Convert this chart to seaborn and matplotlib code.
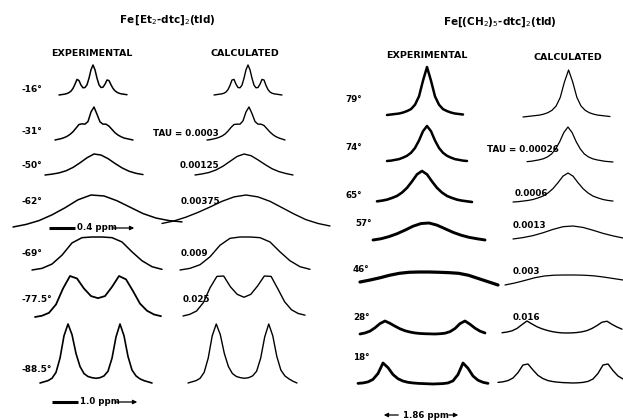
import matplotlib
matplotlib.use("Agg")
import matplotlib.pyplot as plt
import seaborn as sns
import numpy as np
import pandas as pd

sns.set_theme(style="white")
plt.rcParams['font.family'] = ['DejaVu Sans']

# ---------------- data (relative intensities) ----------------
left_temps = ["-16°", "-31°", "-50°", "-62°", "-69°", "-77.5°", "-88.5°"]
left_taus = ["", "TAU = 0.0003", "0.00125", "0.00375", "0.009", "0.025", ""]
right_temps = ["79°", "74°", "65°", "57°", "46°", "28°", "18°"]
right_taus = ["", "TAU = 0.00026", "0.0006", "0.0013", "0.003", "0.016", ""]

exp_m16 = [0, 1, 2, 3, 5, 8, 13, 22, 36, 52, 48, 33, 24, 25, 34, 56, 84, 100, 84, 56,
           34, 25, 26, 36, 50, 48, 34, 22, 14, 9, 6, 4, 3, 2, 1]
calc_m16 = [0, 1, 2, 3, 4, 6, 10, 18, 32, 50, 52, 36, 25, 24, 33, 56, 84, 100, 84, 56,
            33, 24, 25, 36, 52, 50, 32, 18, 10, 6, 4, 3, 2, 1, 0]
exp_m31 = [0, 2, 4, 7, 11, 17, 25, 36, 47, 49, 48, 56, 85, 100, 78, 55, 48, 48, 42, 32,
           22, 15, 10, 6, 4, 2, 0]
calc_m31 = [0, 1, 3, 5, 8, 12, 18, 27, 38, 47, 48, 48, 58, 85, 100, 80, 56, 48, 48, 44,
            34, 24, 16, 10, 6, 3, 0]
exp_m50 = [0, 4, 10, 20, 36, 58, 82, 100, 95, 78, 55, 34, 18, 8, 2]
calc_m50 = [0, 5, 12, 24, 42, 65, 88, 100, 92, 72, 50, 30, 16, 7, 0]
exp_m62 = [0, 8, 20, 38, 60, 85, 100, 97, 82, 62, 42, 28, 20, 16]
calc_m62 = [10, 18, 30, 45, 62, 80, 94, 100, 94, 80, 60, 40, 22, 10, 2]
exp_m69 = [0, 5, 18, 45, 82, 98, 100, 100, 98, 85, 55, 28, 10, 2]
calc_m69 = [0, 5, 16, 40, 75, 96, 100, 100, 98, 85, 55, 28, 10, 2]
exp_m775 = [0, 3, 10, 30, 68, 98, 92, 68, 50, 45, 50, 72, 98, 90, 62, 32, 15, 6, 2]
calc_m775 = [0, 4, 12, 32, 68, 95, 96, 70, 52, 45, 52, 72, 96, 95, 65, 34, 15, 6, 2]
exp_m885 = [0, 2, 4, 8, 18, 42, 80, 100, 82, 50, 28, 16, 11, 9, 8, 9, 12, 20, 42, 78,
            100, 80, 45, 22, 12, 7, 4, 2, 0]
calc_m885 = [0, 2, 4, 8, 18, 42, 80, 100, 82, 50, 28, 16, 11, 9, 8, 9, 12, 20, 42, 78,
             100, 80, 45, 22, 12, 7, 3, 0]

exp_79 = [2, 3, 4, 5, 7, 10, 14, 23, 40, 72, 100, 72, 40, 23, 14, 10, 7, 5, 4, 3]
calc_79 = [2, 3, 4, 5, 6, 8, 11, 16, 25, 43, 75, 100, 75, 43, 25, 16, 11, 8, 6, 5, 4, 3]
exp_74 = [6, 7, 9, 11, 15, 20, 28, 41, 61, 86, 100, 86, 61, 41, 28, 20, 15, 11, 9, 7, 6]
calc_74 = [5, 6, 8, 10, 13, 18, 26, 40, 60, 85, 100, 85, 60, 40, 26, 18, 13, 10, 8, 6, 5, 4]
exp_65 = [10, 12, 15, 20, 26, 36, 50, 69, 90, 100, 90, 69, 50, 36, 26, 20, 15, 12, 10, 8]
calc_65 = [7, 8, 10, 12, 15, 20, 26, 36, 50, 69, 90, 100, 90, 69, 50, 36, 26, 20, 15, 12, 10]
exp_57 = [5, 12, 24, 40, 60, 82, 97, 100, 88, 68, 48, 32, 20, 12, 5]
calc_57 = [8, 18, 32, 52, 76, 95, 100, 90, 70, 48, 30, 15]
exp_46 = [23, 38, 55, 75, 90, 98, 100, 100, 98, 95, 90, 75, 50, 25, 0]
calc_46 = [0, 20, 45, 72, 90, 98, 100, 100, 98, 92, 80, 65, 50]
exp_28 = [0, 8, 22, 48, 80, 100, 82, 60, 40, 25, 15, 8, 4, 2, 1, 0, 2, 6, 18, 42,
          80, 100, 75, 45, 22, 8]
calc_28 = [2, 8, 18, 38, 70, 100, 75, 52, 35, 22, 12, 5, 1, 0, 1, 4, 10, 20, 38, 62,
           90, 98, 72, 50, 32]
exp_18 = [3, 5, 10, 22, 50, 100, 78, 45, 25, 14, 8, 5, 3, 2, 1, 0, 1, 2, 5, 15,
          45, 100, 75, 38, 18, 8, 3]
calc_18 = [3, 6, 12, 25, 52, 90, 95, 65, 38, 22, 12, 7, 4, 2, 1, 0, 1, 3, 8, 20,
           48, 90, 95, 62, 35, 20]

# ---------------- layout (pixel boxes: left, right, top, bottom) ----------------
W, H = 623, 420
fig = plt.figure(figsize=(W / 100, H / 100), dpi=100)
bg = fig.add_axes([0, 0, 1, 1])
bg.set_xlim(0, W)
bg.set_ylim(H, 0)
bg.axis("off")

traces = [
    (exp_m16, (59, 127, 65, 95), 1.1), (calc_m16, (214, 282, 65, 95), 1.0),
    (exp_m31, (55, 133, 107, 140), 1.1), (calc_m31, (207, 285, 107, 140), 1.0),
    (exp_m50, (45, 143, 154, 175), 1.1), (calc_m50, (195, 293, 154, 175), 1.0),
    (exp_m62, (13, 182, 195, 227), 1.1), (calc_m62, (162, 330, 195, 226), 1.0),
    (exp_m69, (32, 162, 237, 270), 1.1), (calc_m69, (180, 310, 237, 270), 1.0),
    (exp_m775, (35, 161, 276, 317), 1.3), (calc_m775, (183, 305, 276, 316), 1.0),
    (exp_m885, (40, 152, 324, 383), 1.2), (calc_m885, (188, 297, 324, 383), 1.0),
    (exp_79, (387, 463, 67, 115), 1.8), (calc_79, (523, 610, 70, 117), 0.9),
    (exp_74, (387, 467, 126, 161), 1.8), (calc_74, (527, 613, 127, 162), 0.9),
    (exp_65, (377, 472, 171, 202), 1.9), (calc_65, (513, 613, 173, 202), 0.9),
    (exp_57, (373, 485, 223, 240), 2.1), (calc_57, (513, 623, 226, 239), 0.9),
    (exp_46, (360, 498, 272, 285), 2.3), (calc_46, (505, 623, 275, 285), 0.9),
    (exp_28, (360, 485, 321, 334), 2.0), (calc_28, (502, 622, 321, 333), 1.0),
    (exp_18, (358, 488, 363, 384), 2.0), (calc_18, (498, 623, 364, 383), 1.0),
]

for vals, (l, r, t, b), lw in traces:
    ax = fig.add_axes([l / W, 1 - b / H, (r - l) / W, (b - t) / H])
    df = pd.DataFrame({"i": np.arange(len(vals)), "v": vals})
    sns.lineplot(data=df, x="i", y="v", ax=ax, color="black", lw=lw,
                 estimator=None, sort=False, legend=False)
    for ln in ax.lines:
        ln.set_clip_on(False)
        ln.set_solid_joinstyle("round")
        ln.set_solid_capstyle("round")
    ax.set_xlim(0, len(vals) - 1)
    ax.set_ylim(min(vals), max(vals))
    ax.axis("off")
    ax.patch.set_alpha(0)

# ---------------- texts ----------------
tk = dict(color="black", fontweight="bold", va="center")
bg.text(167, 20, r"Fe$\,$[Et$_2$-dtc]$_2$(tld)", ha="center", fontsize=7.5, **tk)
bg.text(500, 22, r"Fe[(CH$_2$)$_5$-dtc]$_2$(tld)", ha="center", fontsize=7.5, **tk)
bg.text(92, 54, "EXPERIMENTAL", ha="center", fontsize=6.8, **tk)
bg.text(245, 54, "CALCULATED", ha="center", fontsize=6.8, **tk)
bg.text(427, 55, "EXPERIMENTAL", ha="center", fontsize=6.8, **tk)
bg.text(568, 57, "CALCULATED", ha="center", fontsize=6.8, **tk)

left_y = [90, 132, 165, 202, 253, 300, 370]
for lab, y in zip(left_temps, left_y):
    bg.text(22, y, lab, ha="left", fontsize=6.5, **tk)
left_tau_pos = [None, (153, 133), (180, 165), (181, 202), (181, 253), (183, 300), None]
for lab, p in zip(left_taus, left_tau_pos):
    if p:
        bg.text(p[0], p[1], lab, ha="left", fontsize=6.3, **tk)

right_pos = [(345, 100), (345, 147), (345, 195), (355, 224), (353, 270), (353, 317), (353, 357)]
for lab, p in zip(right_temps, right_pos):
    bg.text(p[0], p[1], lab, ha="left", fontsize=6.3, **tk)
right_tau_pos = [None, (487, 150), (515, 193), (513, 226), (513, 272), (513, 318), None]
for lab, p in zip(right_taus, right_tau_pos):
    if p:
        bg.text(p[0], p[1], lab, ha="left", fontsize=6.3, **tk)

# scale bars
def scale_bar(x0, x1, tx, xa, y, label):
    bg.plot([x0, x1], [y, y], color="black", lw=2.2, solid_capstyle="butt")
    bg.text(tx, y, label, ha="left", fontsize=6.2, **tk)
    bg.annotate("", xy=(xa, y), xytext=(xa - 27, y),
                arrowprops=dict(arrowstyle="-|>", color="black", lw=0.9,
                                mutation_scale=6))

scale_bar(49, 75, 77, 137, 228, "0.4 ppm")
scale_bar(52, 78, 80, 140, 402, "1.0 ppm")

bg.annotate("", xy=(381, 415), xytext=(401, 415),
            arrowprops=dict(arrowstyle="-|>", color="black", lw=0.9, mutation_scale=6))
bg.text(403, 415, "1.86 ppm", ha="left", fontsize=6.2, **tk)
bg.annotate("", xy=(461, 415), xytext=(446, 415),
            arrowprops=dict(arrowstyle="-|>", color="black", lw=0.9, mutation_scale=6))

fig.savefig("out.png", dpi=100)
